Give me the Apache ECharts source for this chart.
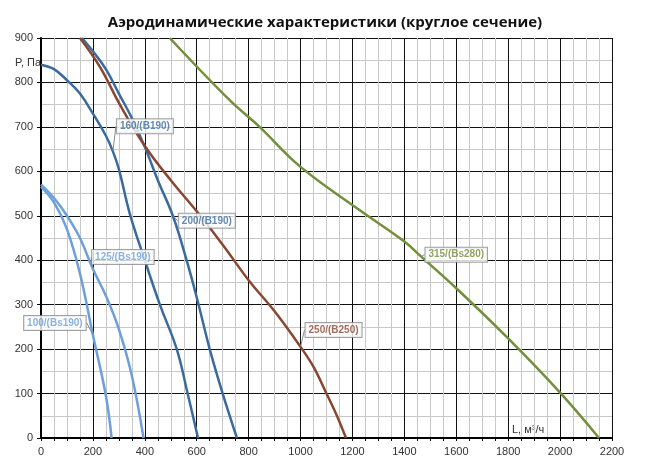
<!DOCTYPE html>
<html><head><meta charset="utf-8">
<script src="https://cdn.jsdelivr.net/npm/echarts@6/dist/echarts.min.js"></script>
<style>html,body{margin:0;padding:0;background:#fff}#c{width:650px;height:463px}</style>
</head><body><div id="c"></div>
<script>
const xTicks=[0,200,400,600,800,1000,1200,1400,1600,1800,2000,2200];
const yTicks=[0,100,200,300,400,500,600,700,800,900];
const s100=[[0,565],[50,530],[100,470],[150,370],[200,232],[250,95],[272,0]];
const s125=[[0,570],[50,540],[100,500],[150,450],[200,380],[250,320],[300,245],[350,140],[395,0]];
const s160=[[0,840],[50,830],[100,805],[150,775],[200,730],[250,680],[277,645],[300,605],[342,505],[400,400],[458,300],[523,200],[565,100],[605,0]];
const s200=[[158,900],[200,870],[250,830],[300,775],[350,720],[400,655],[450,580],[508,500],[561,400],[605,305],[650,200],[700,100],[755,0]];
const s250=[[150,900],[227,835],[304,750],[400,657],[500,580],[600,510],[700,435],[800,355],[900,285],[1000,205],[1050,160],[1100,100],[1140,50],[1175,0]];
const s315=[[496,900],[727,760],[842,700],[1000,610],[1227,513],[1400,442],[1465,408],[1600,337],[1800,224],[2000,102],[2150,0]];
const names=['100/(Bs190)','125/(Bs190)','160/(B190)','200/(B190)','250/(B250)','315/(Bs280)'];
const colors=['#6C9FDB','#6C9FDB','#3A6B9F','#3A6B9F','#8A4630','#728F3A'];
const labelAt=[[200,232],[200,380],[277,645],[508,500],[1000,205],[1465,408]];
const offs=[[-38,-12],[30,-12],[32,-25],[34,5],[33,-17],[35,-2]];
const all=[s100,s125,s160,s200,s250,s315];
const chart=echarts.init(document.getElementById('c'));
const lines=all.map((d,i)=>({
  type:'line',name:names[i],smooth:0.4,showSymbol:false,symbol:'none',
  lineStyle:{color:colors[i],width:2.5},data:d,z:2}));
const labels=all.map((d,i)=>({
  type:'scatter',symbolSize:1,itemStyle:{color:colors[i]},z:5,
  data:[labelAt[i]],
  label:{show:true,formatter:names[i],position:'inside',color:colors[i],
    fontSize:10,fontWeight:'bold',fontFamily:'Arial',backgroundColor:'#fff',borderColor:'#8a8a8a',
    borderWidth:1,padding:[2,3]},
  labelLayout:{dx:offs[i][0],dy:offs[i][1]},
  labelLine:{show:true,lineStyle:{color:'#8a8a8a',width:1}}
}));
chart.setOption({
  animation:false,
  title:{text:'Аэродинамические характеристики (круглое сечение)',left:'center',top:10,
    textStyle:{fontSize:15,fontWeight:'bold',color:'#111',fontFamily:'Open Sans'}},
  grid:{left:41,right:38,top:38,bottom:25},
  xAxis:{type:'value',min:0,max:2200,interval:200,
    axisLine:{lineStyle:{color:'#000',width:2}},axisTick:{show:true,length:3,lineStyle:{color:'#000'}},
    minorTick:{show:true,splitNumber:4,length:3,lineStyle:{color:'#000'}},
    axisLabel:{color:'#333',fontSize:11,fontFamily:'Arial',formatter:v=>String(v)},
    splitLine:{show:true,lineStyle:{color:'#111',width:1}},
    minorSplitLine:{show:true,lineStyle:{color:'#c8c8c8',width:1}}},
  yAxis:{type:'value',min:0,max:900,interval:100,
    axisLine:{show:true,lineStyle:{color:'#000',width:2}},axisTick:{show:true,length:4,lineStyle:{color:'#000'}},
    minorTick:{show:false,splitNumber:2},
    axisLabel:{color:'#333',fontSize:11,fontFamily:'Arial',formatter:v=>String(v)},
    splitLine:{show:true,lineStyle:{color:'#111',width:1}},
    minorSplitLine:{show:true,lineStyle:{color:'#c8c8c8',width:1}}},
  graphic:[
    {type:'text',left:15,top:57,style:{text:'P, Па',fontSize:11,fill:'#333',fontFamily:'Arial'}},
    {type:'text',left:512,top:424,style:{text:'L, м³/ч',fontSize:11,fill:'#333',fontFamily:'Arial',backgroundColor:'#fff'}}
  ],
  series:lines.concat(labels)
});
</script></body></html>
